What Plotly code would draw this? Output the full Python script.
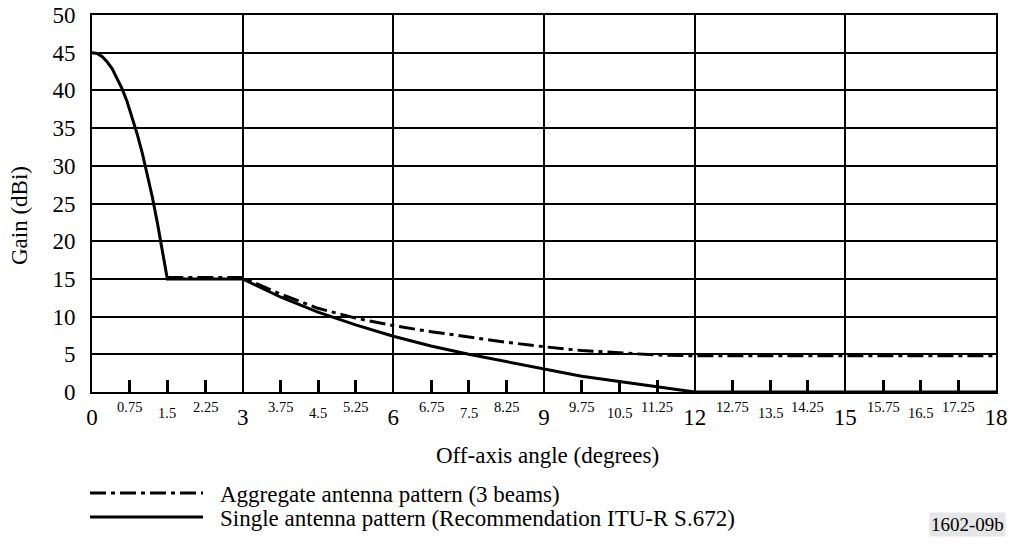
import plotly.graph_objects as go

# Data
angle_single = [0, 0.1, 0.2, 0.3, 0.4, 0.5, 0.6, 0.7, 0.8, 0.9, 1.0, 1.1, 1.2, 1.3, 1.4, 1.5,
                3, 3.75, 4.5, 5.25, 6, 6.75, 7.5, 8.25, 9, 9.75, 10.5, 11.25, 12, 18]
gain_single = [45, 44.9, 44.5, 43.8, 42.9, 41.6, 40.2, 38.5, 36.5, 34.2, 31.7, 29.0, 25.9, 22.5, 18.9, 15,
               15, 12.6, 10.6, 8.9, 7.4, 6.1, 5.0, 4.0, 3.0, 2.1, 1.4, 0.7, 0, 0]

angle_agg = [1.5, 3, 3.75, 4.5, 5.25, 6, 6.75, 7.5, 8.25, 9, 9.75, 10.5, 11.25, 12, 18]
gain_agg = [15.2, 15.2, 13.0, 11.1, 9.8, 8.8, 8.0, 7.3, 6.6, 6.0, 5.5, 5.2, 4.9, 4.8, 4.8]

major_ticks = [0, 3, 6, 9, 12, 15, 18]
minor_ticks = [0.75, 1.5, 2.25, 3.75, 4.5, 5.25, 6.75, 7.5, 8.25, 9.75, 10.5, 11.25,
               12.75, 13.5, 14.25, 15.75, 16.5, 17.25]
minor_labels = ["0.75", "1.5", "2.25", "3.75", "4.5", "5.25", "6.75", "7.5", "8.25", "9.75", "10.5", "11.25",
                "12.75", "13.5", "14.25", "15.75", "16.5", "17.25"]
y_ticks = [0, 5, 10, 15, 20, 25, 30, 35, 40, 45, 50]

legend_labels = ["Aggregate antenna pattern (3 beams)", "Single antenna pattern (Recommendation ITU-R S.672)"]

FONT = "Liberation Serif, Times New Roman, serif"
DASH = "16px,5px,4px,5px"

W, H = 1011, 551
L, R, T, B = 92, 15, 15, 159
x0px, x1px, y0px, y1px = L, W - R, H - B, T


def px_x(px):
    return (px - x0px) / (x1px - x0px)


def px_y(py):
    return (y0px - py) / (y0px - y1px)


fig = go.Figure()
fig.add_trace(go.Scatter(x=angle_agg, y=gain_agg, mode="lines",
                         line=dict(color="black", width=3, dash=DASH),
                         name=legend_labels[0], showlegend=False))
fig.add_trace(go.Scatter(x=angle_single, y=gain_single, mode="lines",
                         line=dict(color="black", width=3),
                         name=legend_labels[1], showlegend=False))

annotations = []
for i, (v, lab) in enumerate(zip(minor_ticks, minor_labels)):
    high = (i % 3) != 1
    annotations.append(dict(x=v, y=0, xref="x", yref="y", text=lab, showarrow=False,
                            xanchor="center", yanchor="middle",
                            yshift=-15 if high else -21,
                            font=dict(family=FONT, size=14.5, color="black")))

annotations.append(dict(x=px_x(547), y=px_y(455), xref="paper", yref="paper", text="Off-axis angle (degrees)",
                        showarrow=False, xanchor="center", yanchor="middle",
                        font=dict(family=FONT, size=23, color="black")))
annotations.append(dict(x=px_x(19), y=px_y(216), xref="paper", yref="paper", text="Gain (dBi)",
                        textangle=-90, showarrow=False, xanchor="center", yanchor="middle",
                        font=dict(family=FONT, size=23, color="black")))
for lab, py in zip(legend_labels, [494, 518]):
    annotations.append(dict(x=px_x(218), y=px_y(py), xref="paper", yref="paper", text=lab,
                            showarrow=False, xanchor="left", yanchor="middle",
                            font=dict(family=FONT, size=23, color="black")))
annotations.append(dict(x=px_x(1006), y=px_y(524), xref="paper", yref="paper", text="1602-09b",
                        showarrow=False, xanchor="right", yanchor="middle", bgcolor="#e6e6e6",
                        borderpad=1, font=dict(family=FONT, size=19, color="black")))

shapes = [
    dict(type="line", xref="paper", yref="paper", x0=px_x(90), x1=px_x(203), y0=px_y(493), y1=px_y(493),
         line=dict(color="black", width=3, dash=DASH)),
    dict(type="line", xref="paper", yref="paper", x0=px_x(90), x1=px_x(203), y0=px_y(517), y1=px_y(517),
         line=dict(color="black", width=3)),
]

fig.update_layout(
    width=W, height=H,
    margin=dict(l=L, r=R, t=T, b=B, pad=0, autoexpand=False),
    paper_bgcolor="white", plot_bgcolor="white",
    showlegend=False,
    annotations=annotations,
    shapes=shapes,
    font=dict(family=FONT, color="black"),
    xaxis=dict(range=[0, 18], tickvals=major_ticks, ticktext=[str(v) for v in major_ticks],
               tickfont=dict(family=FONT, size=23, color="black"),
               ticks="outside", ticklen=3, tickcolor="rgba(0,0,0,0)",
               showgrid=True, gridcolor="black", gridwidth=2,
               showline=True, linecolor="black", linewidth=2, mirror=True,
               zeroline=False, automargin=False,
               minor=dict(tickvals=minor_ticks, ticks="inside", ticklen=12, tickwidth=3,
                          tickcolor="black", showgrid=False)),
    yaxis=dict(range=[0, 50], tickvals=y_ticks,
               tickfont=dict(family=FONT, size=23, color="black"),
               ticks="outside", ticklen=10, tickcolor="rgba(0,0,0,0)",
               showgrid=True, gridcolor="black", gridwidth=2,
               showline=True, linecolor="black", linewidth=2, mirror=True,
               zeroline=False, automargin=False),
)

fig.write_html("out.html")
